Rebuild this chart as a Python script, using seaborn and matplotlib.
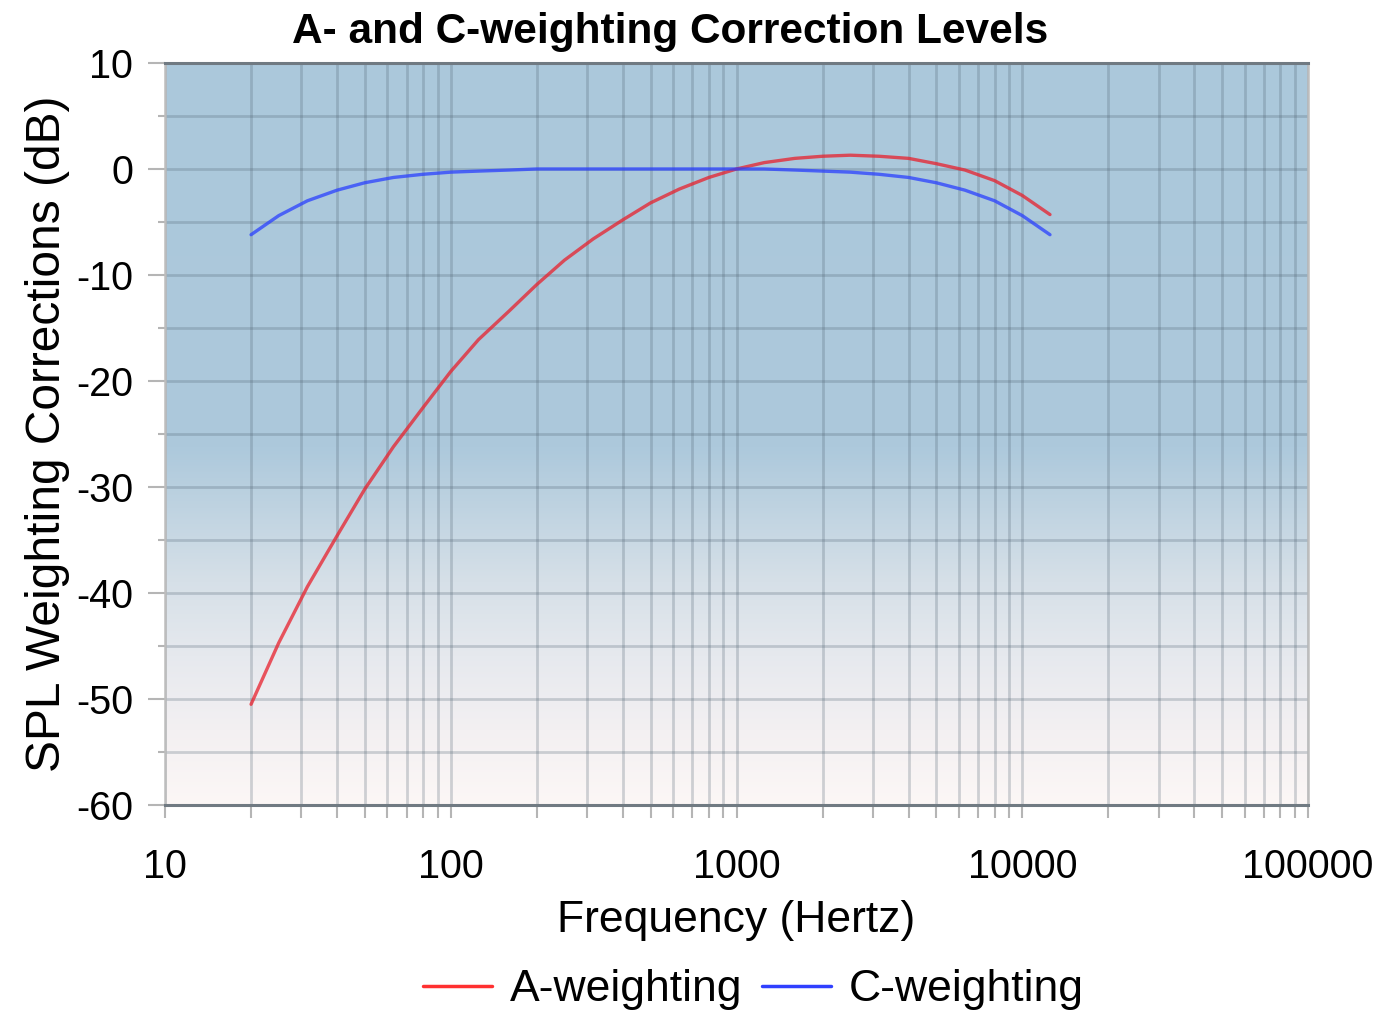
import numpy as np
import pandas as pd
import matplotlib
matplotlib.use("Agg")
import matplotlib.pyplot as plt
from matplotlib.colors import LinearSegmentedColormap
from matplotlib.ticker import FixedLocator, NullFormatter
from matplotlib.lines import Line2D
import seaborn as sns

freqs = [20, 25, 31.5, 40, 50, 63, 80, 100, 125, 160, 200, 250, 315, 400, 500,
         630, 800, 1000, 1250, 1600, 2000, 2500, 3150, 4000, 5000, 6300, 8000,
         10000, 12500]
a_weight = [-50.5, -44.7, -39.4, -34.6, -30.2, -26.2, -22.5, -19.1, -16.1, -13.4,
            -10.9, -8.6, -6.6, -4.8, -3.2, -1.9, -0.8, 0.0, 0.6, 1.0, 1.2, 1.3,
            1.2, 1.0, 0.5, -0.1, -1.1, -2.5, -4.3]
c_weight = [-6.2, -4.4, -3.0, -2.0, -1.3, -0.8, -0.5, -0.3, -0.2, -0.1, 0.0, 0.0,
            0.0, 0.0, 0.0, 0.0, 0.0, 0.0, 0.0, -0.1, -0.2, -0.3, -0.5, -0.8, -1.3,
            -2.0, -3.0, -4.4, -6.2]
series_names = ["A-weighting", "C-weighting"]
x_tick_vals = [10, 100, 1000, 10000, 100000]
x_tick_labels = ["10", "100", "1000", "10000", "100000"]
y_tick_vals = [10, 0, -10, -20, -30, -40, -50, -60]
y_tick_labels = ["10", "0", "-10", "-20", "-30", "-40", "-50", "-60"]

df = pd.DataFrame({
    "Frequency": freqs * 2,
    "dB": a_weight + c_weight,
    "Series": [series_names[0]] * len(freqs) + [series_names[1]] * len(freqs),
})

sns.set_theme(style="white")
plt.rcParams['font.family'] = ['Liberation Sans', 'DejaVu Sans']
plt.rcParams['text.color'] = 'black'
plt.rcParams['axes.labelcolor'] = 'black'

fig = plt.figure(figsize=(13.88, 10.14), dpi=100)
ax = fig.add_axes([0.1189, 0.2061, 0.8235, 0.7318])

# gradient background
grad_cmap = LinearSegmentedColormap.from_list("bg", [
    (0.0, "#fcf7f6"), (0.1, "#f3f0f2"), (0.2, "#e6e9ee"), (0.3, "#d6e0e8"),
    (0.4, "#bfd3e1"), (0.48, "#adc9dc"), (1.0, "#abc8db")])
grad = np.linspace(0, 1, 256).reshape(-1, 1)
ax.imshow(grad, cmap=grad_cmap, aspect="auto", origin="lower",
          extent=[0, 1, 0, 1], transform=ax.transAxes, zorder=0)

colors = {"A-weighting": "#e8202c", "C-weighting": "#2a40ff"}
sns.lineplot(data=df, x="Frequency", y="dB", hue="Series", palette=colors,
             linewidth=2.4, alpha=0.75, ax=ax, legend=False, zorder=3)

ax.set_xscale("log")
ax.set_xlim(10, 100000)
ax.set_ylim(-60, 10)

ax.set_xticks(x_tick_vals)
ax.set_xticklabels(x_tick_labels)
ax.xaxis.set_minor_locator(FixedLocator(
    [m * 10 ** e for e in range(1, 5) for m in range(2, 10)]))
ax.xaxis.set_minor_formatter(NullFormatter())
ax.set_yticks(y_tick_vals)
ax.set_yticklabels(y_tick_labels)
ax.yaxis.set_minor_locator(FixedLocator(np.arange(-55, 10, 10)))

grid_kw = dict(color="#4f6170", alpha=0.26, linewidth=2.0)
ax.grid(True, which="major", **grid_kw)
ax.grid(True, which="minor", **grid_kw)
for gl in ax.get_xgridlines() + ax.get_ygridlines():
    gl.set_zorder(1)

ax.tick_params(axis="x", which="both", direction="out", length=9, width=1.5,
               color="#b5b5b5", bottom=True, labelsize=28.5, pad=22,
               labelcolor="black")
ax.tick_params(axis="y", which="major", direction="out", length=12, width=1.5,
               color="#b5b5b5", left=True, labelsize=28.5, pad=11,
               labelcolor="black")
ax.tick_params(axis="y", which="minor", direction="out", length=5, width=1.5,
               color="#b5b5b5", left=True)

for side in ["top", "bottom"]:
    ax.spines[side].set_color("#707a82")
    ax.spines[side].set_linewidth(2.2)
for side in ["left", "right"]:
    ax.spines[side].set_color("#bdbdbd")
    ax.spines[side].set_linewidth(1.8)

ax.set_xlabel("Frequency (Hertz)", fontsize=32, labelpad=10, color="black")
ax.set_ylabel("SPL Weighting Corrections (dB)", fontsize=34.5, labelpad=4,
              color="black")
fig.text(0.483, 0.968, "A- and C-weighting Correction Levels", fontsize=30.5,
         fontweight="bold", ha="center", va="center", color="black",
         family=['Liberation Sans Narrow', 'Liberation Sans', 'DejaVu Sans'])

handles = [Line2D([], [], color="#ff3030", linewidth=2.5),
           Line2D([], [], color="#3040ff", linewidth=2.5)]
fig.legend(handles, series_names, loc="center", bbox_to_anchor=(0.543, 0.024),
           ncol=2, frameon=False, fontsize=32, handlelength=1.55,
           handletextpad=0.4, columnspacing=0.45)

fig.savefig("out.png", dpi=100)
